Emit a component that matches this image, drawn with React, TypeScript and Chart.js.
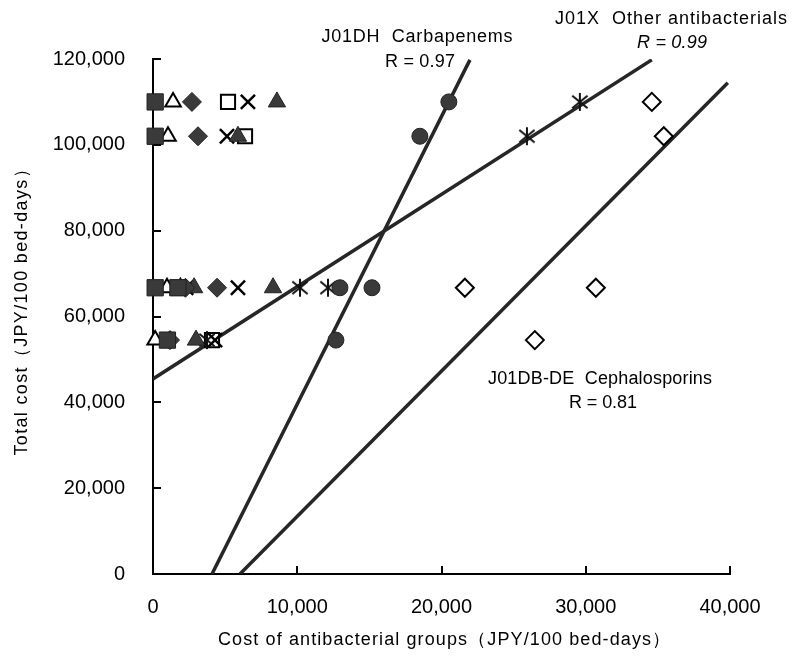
import React, { useEffect, useRef } from 'react';
import { Chart, registerables } from 'chart.js';

Chart.register(...registerables);

// ---------- data ----------
// total cost of each hospital (JPY/100 bed-days)
const hospitalTotalCost = [110000, 102000, 66700, 66700, 54500];

// cost of each antibacterial group per hospital (same order as hospitalTotalCost)
const filledSquareCost = [150, 150, 150, 1730, 1000];
const openTriangleCost = [1390, 1040, 970, 1900, 150];
const filledDiamondCost = [2700, 3120, 4440, 2250, 1180];
const openSquareCost = [5200, 6380, 1700, 1760, 4090];
const crossCost = [6580, 5130, 5890, 2300, 4300];
const filledTriangleCost = [8590, 5890, 8320, 2850, 2980];
const carbapenemCost = [20510, 18500, 12960, 15180, 12680];
const otherAntibacterialCost = [29590, 25920, 10190, 12130, 3740];
const cephalosporinCost = [34580, 35410, 21620, 30700, 26470];

// regression lines (end points)
const carbapenemFitX = [4090, 21970];
const carbapenemFitY = [0, 119800];
const otherFitX = [0, 34580];
const otherFitY = [45450, 119800];
const cephalosporinFitX = [6030, 39850];
const cephalosporinFitY = [0, 114450];

// axes
const xTickValues = [0, 10000, 20000, 30000, 40000];
const yTickValues = [0, 20000, 40000, 60000, 80000, 100000, 120000];
const xAxisTitle = 'Cost of antibacterial groups（JPY/100 bed-days）';
const yAxisTitle = 'Total cost（JPY/100 bed-days）';

// annotations
const carbapenemLabel = 'J01DH  Carbapenems';
const carbapenemR = 'R = 0.97';
const otherLabel = 'J01X  Other antibacterials';
const otherR = 'R = 0.99';
const cephalosporinLabel = 'J01DB-DE  Cephalosporins';
const cephalosporinR = 'R = 0.81';

// ---------- helpers ----------
const toPoints = (xs: number[], ys: number[]) => xs.map((x, i) => ({ x, y: ys[i] }));
const fmt = (v: number) => Number(v).toLocaleString('en-US');

const FONT = '"Liberation Sans", Arial, sans-serif';
const DARK = '#3a3a3a';

function makeAsterisk(size: number) {
  const c = document.createElement('canvas');
  c.width = size;
  c.height = size;
  const g = c.getContext('2d')!;
  g.strokeStyle = '#111';
  g.lineWidth = 2;
  const m = size / 2;
  const r = size / 2 - 1;
  g.beginPath();
  g.moveTo(m, m - r);
  g.lineTo(m, m + r);
  g.moveTo(m - r * 0.85, m - r * 0.7);
  g.lineTo(m + r * 0.85, m + r * 0.7);
  g.moveTo(m + r * 0.85, m - r * 0.7);
  g.lineTo(m - r * 0.85, m + r * 0.7);
  g.stroke();
  return c;
}

function drawFitted(
  ctx: CanvasRenderingContext2D,
  text: string,
  cx: number,
  cy: number,
  width: number,
  font: string,
  rotate = 0
) {
  ctx.save();
  ctx.font = font;
  (ctx as any).letterSpacing = '0px';
  const w = ctx.measureText(text).width;
  const n = Array.from(text).length;
  const sp = n > 1 ? (width - w) / (n - 1) : 0;
  (ctx as any).letterSpacing = sp.toFixed(2) + 'px';
  ctx.translate(cx, cy);
  if (rotate) ctx.rotate(rotate);
  ctx.fillStyle = '#000';
  ctx.textAlign = 'left';
  ctx.textBaseline = 'middle';
  ctx.fillText(text, -width / 2, 0);
  ctx.restore();
}

const decorations = {
  id: 'decorations',
  afterDraw(chart: any) {
    const { ctx, scales, chartArea } = chart;
    const x = scales.x;
    const y = scales.y;
    ctx.save();
    ctx.strokeStyle = '#000';
    ctx.lineWidth = 2;
    ctx.beginPath();
    yTickValues.forEach((v) => {
      if (v === 0) return;
      const py = Math.round(y.getPixelForValue(v));
      ctx.moveTo(chartArea.left, py);
      ctx.lineTo(chartArea.left + 8, py);
    });
    xTickValues.forEach((v) => {
      if (v === 0) return;
      const px = Math.round(x.getPixelForValue(v));
      ctx.moveTo(px, chartArea.bottom);
      ctx.lineTo(px, chartArea.bottom - 8);
    });
    ctx.stroke();
    ctx.restore();

    const f18 = `18px ${FONT}`;
    drawFitted(ctx, carbapenemLabel, 417, 37, 191, f18);
    drawFitted(ctx, carbapenemR, 420, 62, 70, f18);
    drawFitted(ctx, otherLabel, 671, 19, 232, f18);
    drawFitted(ctx, otherR, 672, 43, 70, `italic 18px ${FONT}`);
    drawFitted(ctx, cephalosporinLabel, 600, 379, 224, f18);
    drawFitted(ctx, cephalosporinR, 603, 403, 68, f18);

    drawFitted(ctx, xAxisTitle, 444, 640, 452, `18px ${FONT}`);
    drawFitted(ctx, yAxisTitle, 22, 308, 295, `18px ${FONT}`, -Math.PI / 2);
  },
};

export default function App() {
  const ref = useRef<HTMLCanvasElement>(null);

  useEffect(() => {
    if (!ref.current) return;
    const asterisk = makeAsterisk(20);
    const line = (label: string, xs: number[], ys: number[]) => ({
      type: 'scatter' as const,
      label,
      data: toPoints(xs, ys),
      showLine: true,
      borderColor: '#262626',
      borderWidth: 3.5,
      pointRadius: 0,
      pointHoverRadius: 0,
      fill: false,
    });
    const markers = (label: string, xs: number[], style: any, radius: number, bg: string, border: string, bw: number) => ({
      type: 'scatter' as const,
      label,
      data: toPoints(xs, hospitalTotalCost),
      pointStyle: style,
      pointRadius: radius,
      pointHoverRadius: radius,
      backgroundColor: bg,
      borderColor: border,
      borderWidth: bw,
      showLine: false,
      clip: false,
    });

    const chart = new Chart(ref.current, {
      type: 'scatter',
      data: {
        datasets: [
          markers('J01DH Carbapenems', carbapenemCost, 'circle', 8, DARK, '#222', 1),
          markers('Group ■', filledSquareCost, 'rect', 11.5, DARK, '#222', 1),
          markers('Group ◆', filledDiamondCost, 'rectRot', 9.5, DARK, '#222', 1),
          markers('Group ▲', filledTriangleCost, 'triangle', 10, DARK, '#222', 1),
          markers('Group ×', crossCost, 'crossRot', 10, '#000', '#000', 2.5),
          markers('J01X Other antibacterials', otherAntibacterialCost, asterisk, 10, '#000', '#000', 2),
          markers('Group △', openTriangleCost, 'triangle', 9, '#fff', '#000', 2),
          markers('Group □', openSquareCost, 'rect', 10, '#fff', '#000', 2),
          markers('J01DB-DE Cephalosporins', cephalosporinCost, 'rectRot', 9, '#fff', '#000', 2),
          line('Carbapenems fit', carbapenemFitX, carbapenemFitY),
          line('Other antibacterials fit', otherFitX, otherFitY),
          line('Cephalosporins fit', cephalosporinFitX, cephalosporinFitY),
        ] as any,
      },
      options: {
        animation: false,
        responsive: false,
        maintainAspectRatio: false,
        devicePixelRatio: 1,
        events: [],
        layout: { padding: { top: 59, right: 64, left: 0, bottom: 0 } },
        plugins: {
          legend: { display: false },
          tooltip: { enabled: false },
          title: { display: false },
        },
        scales: {
          x: {
            type: 'linear',
            min: 0,
            max: 40000,
            afterBuildTicks: (s: any) => {
              s.ticks = xTickValues.map((v) => ({ value: v }));
            },
            afterFit: (s: any) => {
              s.height = 85;
            },
            grid: { display: true, drawOnChartArea: false, drawTicks: false },
            border: { display: true, color: '#000', width: 2 },
            ticks: {
              padding: 21,
              color: '#000',
              font: { family: FONT, size: 20 },
              maxRotation: 0,
              callback: (v: any) => fmt(v),
            },
          },
          y: {
            type: 'linear',
            min: 0,
            max: 120000,
            afterBuildTicks: (s: any) => {
              s.ticks = yTickValues.map((v) => ({ value: v }));
            },
            afterFit: (s: any) => {
              s.width = 153;
            },
            grid: { display: true, drawOnChartArea: false, drawTicks: false },
            border: { display: true, color: '#000', width: 2 },
            ticks: {
              padding: 28,
              color: '#000',
              font: { family: FONT, size: 20 },
              callback: (v: any) => fmt(v),
            },
          },
        },
      } as any,
      plugins: [decorations],
    });
    return () => chart.destroy();
  }, []);

  return (
    <div style={{ position: 'absolute', left: 0, top: 0, width: 794, height: 659, background: '#fff' }}>
      <canvas ref={ref} width={794} height={659} style={{ width: 794, height: 659, display: 'block' }} />
    </div>
  );
}
